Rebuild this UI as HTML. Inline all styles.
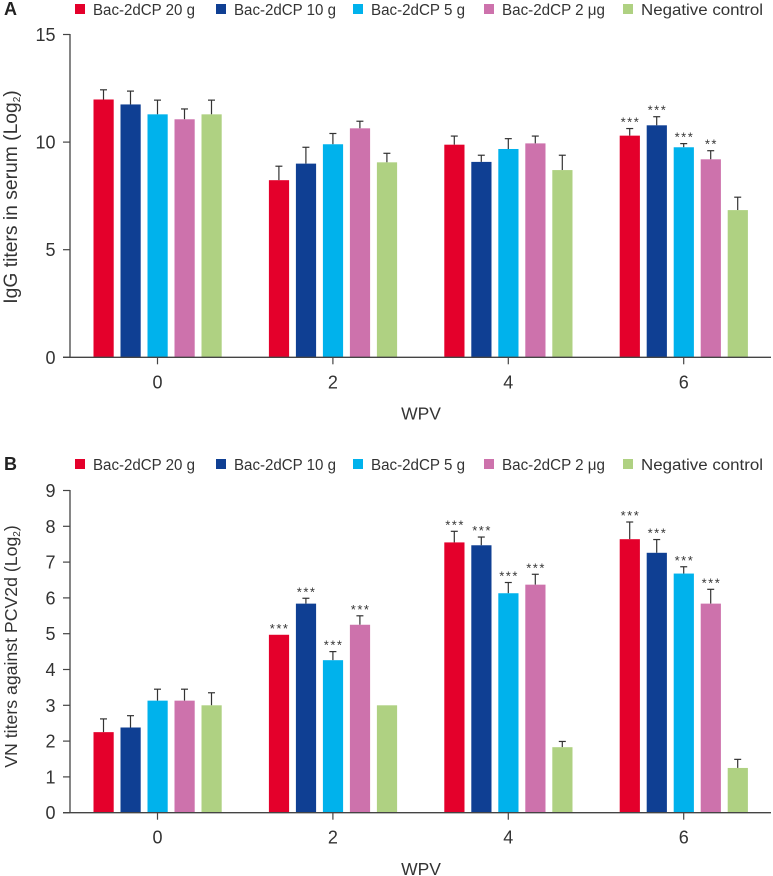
<!DOCTYPE html>
<html lang="en">
<head>
<meta charset="utf-8">
<title>IgG and VN titers by WPV</title>
<style>
html,body{margin:0;padding:0;background:#fff;}
svg{display:block;font-family:"Liberation Sans",sans-serif;}
</style>
</head>
<body>
<svg id="chart" xmlns="http://www.w3.org/2000/svg" width="773" height="876" viewBox="0 0 773 876"></svg>
<script>
const categories = ['0', '2', '4', '6'];
const seriesNames = ['Bac-2dCP 20 g', 'Bac-2dCP 10 g', 'Bac-2dCP 5 g', 'Bac-2dCP 2 μg', 'Negative control'];

const igg20 = [11.98, 8.23, 9.88, 10.30];
const igg10 = [11.75, 9.00, 9.08, 10.78];
const igg5 = [11.29, 9.90, 9.68, 9.76];
const igg2 = [11.06, 10.64, 9.94, 9.20];
const iggNeg = [11.29, 9.06, 8.70, 6.84];
const iggErr20 = [0.45, 0.65, 0.40, 0.33];
const iggErr10 = [0.62, 0.76, 0.31, 0.40];
const iggErr5 = [0.66, 0.50, 0.48, 0.17];
const iggErr2 = [0.48, 0.33, 0.34, 0.40];
const iggErrNeg = [0.66, 0.42, 0.69, 0.60];
const iggSig20 = ['', '', '', '***'];
const iggSig10 = ['', '', '', '***'];
const iggSig5 = ['', '', '', '***'];
const iggSig2 = ['', '', '', '**'];
const iggSigNeg = ['', '', '', ''];
const iggTicks = [0, 5, 10, 15];

const vn20 = [2.25, 4.97, 7.55, 7.64];
const vn10 = [2.38, 5.84, 7.47, 7.26];
const vn5 = [3.13, 4.26, 6.13, 6.68];
const vn2 = [3.13, 5.25, 6.37, 5.84];
const vnNeg = [3.00, 3.00, 1.83, 1.25];
const vnErr20 = [0.37, 0, 0.31, 0.48];
const vnErr10 = [0.33, 0.15, 0.23, 0.37];
const vnErr5 = [0.32, 0.24, 0.30, 0.19];
const vnErr2 = [0.32, 0.25, 0.29, 0.40];
const vnErrNeg = [0.35, 0, 0.16, 0.24];
const vnSig20 = ['', '***', '***', '***'];
const vnSig10 = ['', '***', '***', '***'];
const vnSig5 = ['', '***', '***', '***'];
const vnSig2 = ['', '***', '***', '***'];
const vnSigNeg = ['', '', '', ''];
const vnTicks = [0, 1, 2, 3, 4, 5, 6, 7, 8, 9];

const colors = ['#e4002b', '#0f3f93', '#00b2ec', '#cd72ac', '#afd182'];
const legendX = [75, 216, 353, 484, 623];
const NS = 'http://www.w3.org/2000/svg';
const root = document.getElementById('chart');
const INK = '#333';

function make(tag, attrs, text) {
  const el = document.createElementNS(NS, tag);
  for (const k in attrs) el.setAttribute(k, attrs[k]);
  if (text !== undefined) el.textContent = text;
  return el;
}

function drawPanel(cfg) {
  const g = make('g', {});
  
  
  root.appendChild(g);

  const y = v => cfg.y0 - (v / cfg.yMax) * (cfg.y0 - cfg.yTop);
  const groupX = i => 157.5 + i * 175.4;
  const barX = (i, s) => groupX(i) + (s - 2) * 27;

  const letter = make('text', {x: 4, y: cfg.legendY + 6, 'font-size': 18, 'font-weight': 'bold', fill: '#222'}, cfg.letter);
  
  
  g.appendChild(letter);

  seriesNames.forEach((name, s) => {
    const sw = make('rect', {x: legendX[s], y: cfg.legendY - 5, width: 10, height: 10, fill: colors[s]});
    
    
    g.appendChild(sw);
    const tx = make('text', {x: legendX[s] + 18, y: cfg.legendY + 6, 'font-size': 15.5, fill: INK, textLength: s === 4 ? 122 : (s === 3 ? 103 : (s === 2 ? 94 : 102)), lengthAdjust: 'spacingAndGlyphs'}, name);
    
    
    g.appendChild(tx);
  });

  cfg.series.forEach((vals, s) => {
    vals.forEach((v, i) => {
      const cx = barX(i, s);
      const top = y(v);
      const err = cfg.errors[s][i];
      if (err > 0) {
        const capY = y(v + err);
        const stem = make('line', {x1: cx, x2: cx, y1: top, y2: capY, stroke: '#333', 'stroke-width': 1.2});
        
        
        g.appendChild(stem);
        const cap = make('line', {x1: cx - 3.5, x2: cx + 3.5, y1: capY, y2: capY, stroke: '#333', 'stroke-width': 1.2});
        
        
        g.appendChild(cap);
      }
      const bar = make('rect', {x: cx - 10, y: top, width: 20.2, height: cfg.y0 - top, fill: colors[s]});
      
      
      g.appendChild(bar);
      const mark = cfg.sig[s][i];
      if (mark) {
        const st = make('text', {x: cx + 0.75, y: y(v + err) - 2, 'font-size': 13, 'text-anchor': 'middle', fill: INK, 'letter-spacing': 1.5}, mark);
        
        
        g.appendChild(st);
      }
    });
  });

  const yAxis = make('line', {x1: 70, x2: 70, y1: y(cfg.yMax) - 0.5, y2: cfg.y0, stroke: '#444', 'stroke-width': 1.3});
  
  
  g.appendChild(yAxis);
  const xAxis = make('line', {x1: 63, x2: 771, y1: cfg.y0, y2: cfg.y0, stroke: '#444', 'stroke-width': 1.3});
  
  
  g.appendChild(xAxis);

  cfg.ticks.forEach(t => {
    const tk = make('line', {x1: 63, x2: 70, y1: y(t), y2: y(t), stroke: '#444', 'stroke-width': 1.2});
    
    
    g.appendChild(tk);
    const lb = make('text', {x: 55.5, y: y(t) + 6.5, 'font-size': 18, 'text-anchor': 'end', fill: INK}, String(t));
    
    
    g.appendChild(lb);
  });

  categories.forEach((c, i) => {
    const tk = make('line', {x1: groupX(i), x2: groupX(i), y1: cfg.y0, y2: cfg.y0 + 7, stroke: '#444', 'stroke-width': 1.2});
    
    
    g.appendChild(tk);
    const lb = make('text', {x: groupX(i), y: cfg.y0 + 31, 'font-size': 18, 'text-anchor': 'middle', fill: INK}, c);
    
    
    g.appendChild(lb);
  });

  const xt = make('text', {x: 421, y: cfg.xTitleY, 'font-size': 17.5, 'text-anchor': 'middle', fill: INK}, 'WPV');
  
  
  g.appendChild(xt);

  const yt = make('text', {transform: 'translate(17,' + cfg.titleCy + ') rotate(-90)', 'font-size': cfg.titleSize, 'text-anchor': 'middle', fill: INK});
  
  
  yt.appendChild(make('tspan', {}, cfg.title));
  yt.appendChild(make('tspan', {'font-size': 10, dy: 3}, '2'));
  yt.appendChild(make('tspan', {dy: -3}, ')'));
  g.appendChild(yt);
}

drawPanel({
  key: 'igg', letter: 'A', legendY: 9, y0: 357.3, yTop: 34.5, yMax: 15,
  ticks: iggTicks, xTitleY: 419.5, titleCy: 197, titleSize: 19.3, title: 'IgG titers in serum (Log',
  series: [igg20, igg10, igg5, igg2, iggNeg],
  errors: [iggErr20, iggErr10, iggErr5, iggErr2, iggErrNeg],
  sig: [iggSig20, iggSig10, iggSig5, iggSig2, iggSigNeg]
});
drawPanel({
  key: 'vn', letter: 'B', legendY: 464, y0: 812.7, yTop: 490.5, yMax: 9,
  ticks: vnTicks, xTitleY: 875, titleCy: 646.5, titleSize: 17.7, title: 'VN titers against PCV2d (Log',
  series: [vn20, vn10, vn5, vn2, vnNeg],
  errors: [vnErr20, vnErr10, vnErr5, vnErr2, vnErrNeg],
  sig: [vnSig20, vnSig10, vnSig5, vnSig2, vnSigNeg]
});
</script>
</body>
</html>
